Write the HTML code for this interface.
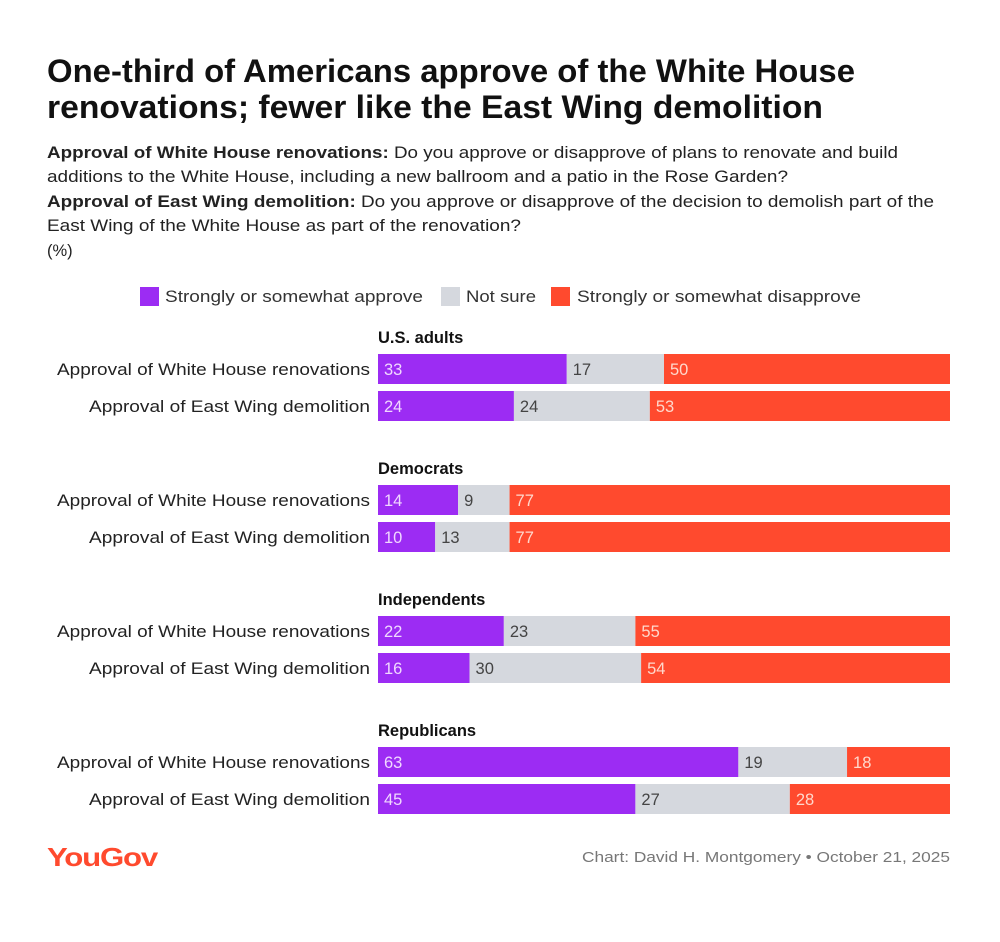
<!DOCTYPE html>
<html><head><meta charset="utf-8"><style>
body{margin:0;background:#fff;font-family:"Liberation Sans",sans-serif}
</style></head><body>
<svg width="1000" height="937" viewBox="0 0 1000 937" xmlns="http://www.w3.org/2000/svg" font-family="Liberation Sans, sans-serif">
<text x="47" y="82" font-size="32" font-weight="bold" fill="#111" textLength="808" lengthAdjust="spacingAndGlyphs">One-third of Americans approve of the White House</text>
<text x="47" y="118" font-size="32" font-weight="bold" fill="#111" textLength="776" lengthAdjust="spacingAndGlyphs">renovations; fewer like the East Wing demolition</text>
<g font-size="16.5" fill="#222">
<text x="47" y="158" textLength="851" lengthAdjust="spacingAndGlyphs"><tspan font-weight="bold">Approval of White House renovations:</tspan> Do you approve or disapprove of plans to renovate and build</text>
<text x="47" y="182" textLength="741" lengthAdjust="spacingAndGlyphs">additions to the White House, including a new ballroom and a patio in the Rose Garden?</text>
<text x="47" y="207" textLength="887" lengthAdjust="spacingAndGlyphs"><tspan font-weight="bold">Approval of East Wing demolition:</tspan> Do you approve or disapprove of the decision to demolish part of the</text>
<text x="47" y="231" textLength="474" lengthAdjust="spacingAndGlyphs">East Wing of the White House as part of the renovation?</text>
<text x="47" y="256">(%)</text>
</g>
<g font-size="16.5" fill="#333">
<rect x="140" y="287" width="19" height="19" fill="#9c2cf3"/>
<text x="165" y="302" textLength="258" lengthAdjust="spacingAndGlyphs">Strongly or somewhat approve</text>
<rect x="441" y="287" width="19" height="19" fill="#d5d8de"/>
<text x="466" y="302" textLength="70" lengthAdjust="spacingAndGlyphs">Not sure</text>
<rect x="551" y="287" width="19" height="19" fill="#ff4a2e"/>
<text x="577" y="302" textLength="284" lengthAdjust="spacingAndGlyphs">Strongly or somewhat disapprove</text>
</g>
<g id="bars"></g>
<text x="47" y="866" font-size="26" font-weight="bold" fill="#ff4a2e" letter-spacing="-1" textLength="110" lengthAdjust="spacingAndGlyphs">YouGov</text>
<text x="950" y="862" font-size="14.5" fill="#777" text-anchor="end" textLength="368" lengthAdjust="spacingAndGlyphs">Chart: David H. Montgomery • October 21, 2025</text>
</svg>
<script>
const groups = ["U.S. adults","Democrats","Independents","Republicans"];
const questions = ["Approval of White House renovations","Approval of East Wing demolition"];
const approve = [[33,24],[14,10],[22,16],[63,45]];
const notSure = [[17,24],[9,13],[23,30],[19,27]];
const disapprove = [[50,53],[77,77],[55,54],[18,28]];
const colors = ["#9c2cf3","#d5d8de","#ff4a2e"];
const textColors = ["#f0d8ff","#444","#ffd8cc"];
const NS="http://www.w3.org/2000/svg";
const g=document.getElementById('bars');
const x0=378,x1=950;
function xs(v,tot){return v/tot*(x1-x0);}
function mk(t,a){const e=document.createElementNS(NS,t);for(const k in a)e.setAttribute(k,a[k]);g.appendChild(e);return e;}
groups.forEach((gn,gi)=>{
  const gy=337+gi*131;
  const h=mk('text',{x:x0,y:gy+6,'font-size':16.5,'font-weight':'bold',fill:'#111'});
  h.textContent=gn;
  
  
  questions.forEach((q,qi)=>{
    const cy=gy+32+qi*37;
    const l=mk('text',{x:370,y:cy+6,'font-size':17,fill:'#222','text-anchor':'end',textLength:qi===0?313:281,lengthAdjust:'spacingAndGlyphs'});
    l.textContent=q;
    
    
    const vals=[approve[gi][qi],notSure[gi][qi],disapprove[gi][qi]];
    const tot=vals[0]+vals[1]+vals[2];
    let x=x0;
    vals.forEach((v,si)=>{
      const w=xs(v,tot);
      const r=mk('rect',{x:x,y:cy-15,width:w,height:30,fill:colors[si]});
      
      
      const t=mk('text',{x:x+6,y:cy+6,'font-size':16.5,fill:textColors[si]});
      t.textContent=v;
      
      
      x+=w;
    });
  });
});
</script>
</body></html>
